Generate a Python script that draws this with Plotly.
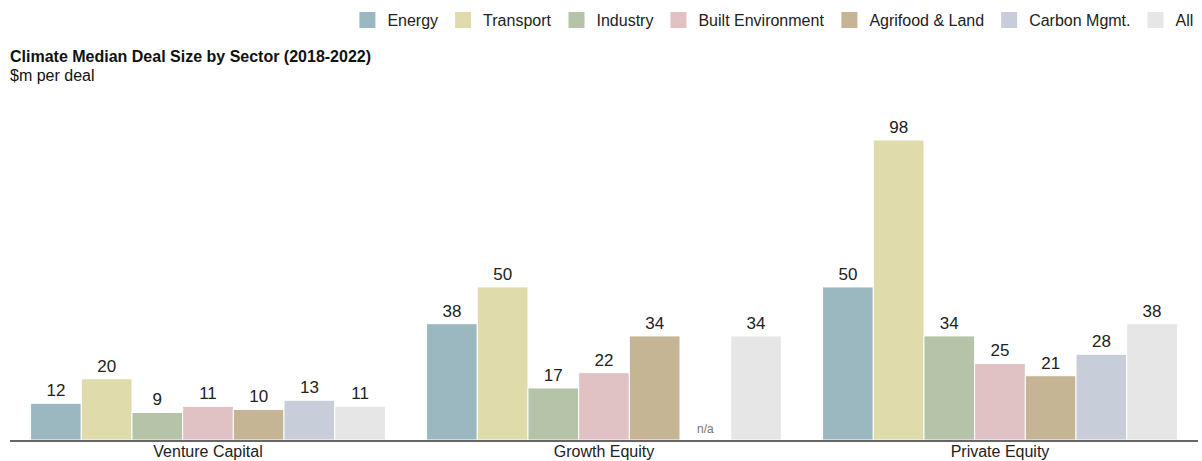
import plotly.graph_objects as go

# Deal stages on the x axis
stages = ["Venture Capital", "Growth Equity", "Private Equity"]

# Sector series: median deal size ($m per deal); None = not available
sectors = ["Energy", "Transport", "Industry", "Built Environment",
           "Agrifood & Land", "Carbon Mgmt.", "All"]
energy = [12, 38, 50]
transport = [20, 50, 98]
industry = [9, 17, 34]
built_env = [11, 22, 25]
agrifood = [10, 34, 21]
carbon_mgmt = [13, None, 28]
all_sectors = [11, 34, 38]

series = [energy, transport, industry, built_env, agrifood, carbon_mgmt, all_sectors]
colors = ["#9BB8C0", "#DFDBAA", "#B5C3A8", "#E0C1C4", "#C5B594", "#C8CED9", "#E6E6E6"]

FONT = "Arial, Liberation Sans, sans-serif"
BARGAP = 0.104

fig = go.Figure()
for name, vals, col in zip(sectors, series, colors):
    fig.add_trace(go.Bar(
        name=name,
        x=stages,
        y=vals,
        marker=dict(color=col, line=dict(color="white", width=1)),
        text=[("" if v is None else str(v)) for v in vals],
        textposition="outside",
        textfont=dict(family=FONT, size=17, color="#222"),
        cliponaxis=False,
        showlegend=False,
        legendgroup=name,
        hoverinfo="x+y+name",
    ))

# Legend entries with larger square swatches
for name, col in zip(sectors, colors):
    fig.add_trace(go.Scatter(
        x=[None], y=[None], mode="markers", name=name, legendgroup=name,
        marker=dict(symbol="square", size=20, color=col),
        hoverinfo="skip",
    ))

# "n/a" marker for missing values, placed at the slot of the missing bar
n = len(sectors)
slot = (1 - BARGAP) / n
for ti, vals in enumerate(series):
    for si, v in enumerate(vals):
        if v is None:
            xpos = si - (1 - BARGAP) / 2 + slot * (ti + 0.5)
            fig.add_annotation(x=xpos, y=3.6, xref="x", yref="y", text="n/a",
                               showarrow=False,
                               font=dict(family=FONT, size=12, color="#777"))

fig.add_annotation(text="<b>Climate Median Deal Size by Sector (2018-2022)</b>",
                   xref="paper", yref="paper", x=-0.002, y=1.1265,
                   xanchor="left", yanchor="middle", showarrow=False,
                   font=dict(family=FONT, size=16, color="#111"))
fig.add_annotation(text="$m per deal",
                   xref="paper", yref="paper", x=-0.002, y=1.0706,
                   xanchor="left", yanchor="middle", showarrow=False,
                   font=dict(family=FONT, size=16, color="#111"))

fig.update_layout(
    width=1202, height=461,
    margin=dict(l=10, r=4, t=100, b=21, autoexpand=False),
    paper_bgcolor="white", plot_bgcolor="white",
    barmode="group", bargap=BARGAP, bargroupgap=0,
    font=dict(family=FONT, size=16, color="#222"),
    showlegend=True,
    legend=dict(orientation="h", x=0.997, xanchor="right",
                xref="container", yref="container",
                y=1 - 20 / 461, yanchor="middle",
                font=dict(family=FONT, size=16, color="#222"),
                itemwidth=30, itemsizing="trace", traceorder="normal"),
    xaxis=dict(showline=True, linecolor="#666", linewidth=1.5, ticks="",
               showgrid=False, automargin=False, ticklabelstandoff=-4,
               tickfont=dict(family=FONT, size=16, color="#222")),
    yaxis=dict(visible=False, range=[0, 111.07], showgrid=False, zeroline=False,
               automargin=False),
)

fig.write_html("out.html")
